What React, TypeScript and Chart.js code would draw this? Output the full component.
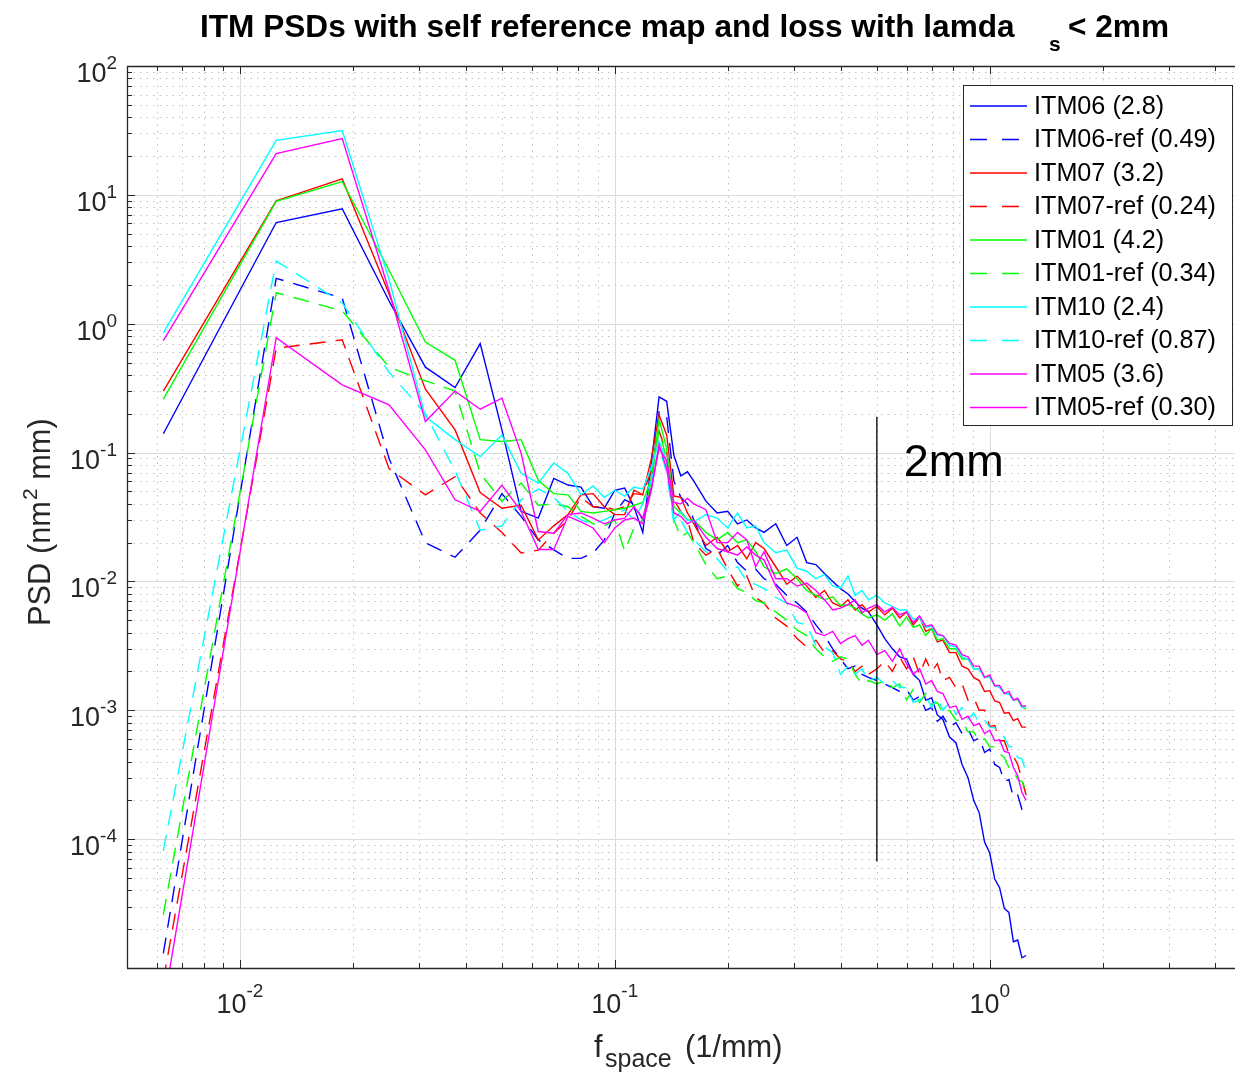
import React, { useEffect, useRef } from "react";
import { Chart, registerables } from "chart.js";

Chart.register(...registerables);

// spatial frequency (1/mm)
const FREQ = [
  0.00625, 0.0125, 0.01875, 0.025, 0.03125, 0.0375, 0.04375, 0.05, 0.05625, 0.0625,
  0.06875, 0.075, 0.08125, 0.0875, 0.09375, 0.1, 0.10625, 0.1125, 0.11875, 0.125,
  0.13125, 0.1375, 0.14375, 0.15, 0.15625,
  0.1625, 0.175, 0.1875, 0.2, 0.2125, 0.225, 0.2375, 0.25, 0.26875, 0.2875,
  0.30625, 0.325, 0.34375, 0.3625, 0.38125, 0.4, 0.41875, 0.4375, 0.45625, 0.475,
  0.5, 0.525, 0.55, 0.575,
  0.6, 0.625, 0.65, 0.675, 0.7, 0.725,
  0.75, 0.78125, 0.8125, 0.84375, 0.875, 0.90625, 0.9375, 0.96875, 1.0, 1.03125,
  1.0625, 1.09375, 1.125, 1.15625, 1.1875, 1.21875, 1.25,
];

const ITM06 = [
  0.14, 6.1, 7.8, 1.5, 0.46, 0.32, 0.70, 0.15, 0.035, 0.031,
  0.063, 0.056, 0.054, 0.038, 0.037, 0.051, 0.053, 0.038, 0.024, 0.08,
  0.27, 0.25, 0.095, 0.066, 0.071,
  0.060, 0.042, 0.034, 0.035, 0.028, 0.030, 0.026, 0.024, 0.028, 0.019,
  0.022, 0.014, 0.0135, 0.0115, 0.010, 0.0088, 0.0080, 0.0070, 0.0062, 0.0058,
  0.0046, 0.0036, 0.0030, 0.0026,
  0.0025, 0.0019, 0.0017, 0.0012, 0.00125, 0.00092,
  0.00085, 0.00062, 0.00056, 0.00038, 0.0003, 0.0002, 0.00016, 0.000095, 0.000078, 0.000049,
  0.000042, 0.000029, 0.000027, 0.000016, 0.0000165, 0.000012, 0.0000125,
];
const ITM06_REF = [
  0.000013, 2.25, 1.58, 0.09, 0.02, 0.0154, 0.025, 0.048, 0.032, 0.021,
  0.0176, 0.0151, 0.0151, 0.0166, 0.021, 0.034, 0.043, 0.040, 0.030, 0.054,
  0.21, 0.19, 0.06, 0.045, 0.040,
  0.030, 0.018, 0.016, 0.019, 0.014, 0.012, 0.0125, 0.0105, 0.0095, 0.0078,
  0.0068, 0.0058, 0.0046, 0.0038, 0.0030, 0.0025, 0.0021, 0.0022, 0.0019, 0.0018,
  0.0017, 0.0016, 0.0015, 0.0014,
  0.00145, 0.0012, 0.00128, 0.001, 0.00105, 0.00082,
  0.0009, 0.00074, 0.0008, 0.00066, 0.00072, 0.00058, 0.00061, 0.00047, 0.0005, 0.00038,
  0.00036, 0.00028, 0.00029, 0.00021, 0.00022, 0.00017, 0.000165,
];
const ITM07 = [
  0.30, 8.97, 13.3, 1.7, 0.31, 0.15, 0.049, 0.037, 0.039, 0.021,
  0.027, 0.033, 0.047, 0.048, 0.038, 0.033, 0.033, 0.051, 0.047, 0.088,
  0.196, 0.137, 0.046, 0.045, 0.034,
  0.028, 0.019, 0.022, 0.017, 0.019, 0.015, 0.020, 0.018, 0.013, 0.0095,
  0.011, 0.0092, 0.0075, 0.0085, 0.0068, 0.0064, 0.0072, 0.0060, 0.0066, 0.0058,
  0.0064, 0.0055, 0.0062, 0.0052,
  0.0058, 0.0046, 0.0053, 0.0041, 0.0043, 0.0034,
  0.0035, 0.0028, 0.0028, 0.0022, 0.0021, 0.0018, 0.0017, 0.0014, 0.00142, 0.00118,
  0.00115, 0.00095, 0.00096, 0.00083, 0.00086, 0.00074, 0.00074,
];
const ITM07_REF = [
  0.000008, 0.645, 0.75, 0.075, 0.047, 0.065, 0.034, 0.024, 0.0166, 0.0175,
  0.0237, 0.030, 0.045, 0.038, 0.038, 0.036, 0.038, 0.048, 0.047, 0.072,
  0.147, 0.10, 0.043, 0.035, 0.030,
  0.020, 0.016, 0.018, 0.0125, 0.0092, 0.011, 0.0075, 0.0068, 0.0052, 0.0045,
  0.0036, 0.0031, 0.0035, 0.0028, 0.0029, 0.0025, 0.0024, 0.0020, 0.0022, 0.0019,
  0.0021, 0.0024, 0.0020, 0.0026,
  0.0021, 0.0026, 0.0019, 0.0025, 0.0020, 0.0023,
  0.0017, 0.0018, 0.0015, 0.0016, 0.0012, 0.00125, 0.001, 0.001, 0.00075, 0.00076,
  0.00058, 0.00058, 0.00046, 0.00044, 0.00038, 0.00029, 0.00022,
];
const ITM01 = [
  0.26, 8.9, 12.7, 2.6, 0.72, 0.52, 0.126, 0.122, 0.126, 0.061,
  0.048, 0.047, 0.035, 0.034, 0.035, 0.036, 0.037, 0.039, 0.041, 0.063,
  0.18, 0.108, 0.038, 0.034, 0.030,
  0.030, 0.024, 0.021, 0.024, 0.020, 0.021, 0.017, 0.013, 0.0115, 0.0125,
  0.0105, 0.0085, 0.0078, 0.0072, 0.0076, 0.0065, 0.0066, 0.0062, 0.0056, 0.0052,
  0.0055, 0.0050, 0.0056, 0.0045,
  0.0053, 0.0044, 0.0046, 0.0038, 0.0043, 0.0035,
  0.0036, 0.003, 0.003, 0.0025, 0.0025, 0.0021, 0.0021, 0.0018, 0.00182, 0.00155,
  0.00155, 0.00135, 0.00134, 0.0012, 0.00121, 0.00106, 0.00102,
];
const ITM01_REF = [
  0.000026, 1.74, 1.26, 0.46, 0.36, 0.30, 0.069, 0.042, 0.058, 0.039,
  0.040, 0.038, 0.032, 0.028, 0.027, 0.030, 0.0172, 0.026, 0.030, 0.060,
  0.15, 0.088, 0.030, 0.022, 0.024,
  0.020, 0.0135, 0.0105, 0.011, 0.0088, 0.0082, 0.0071, 0.0068, 0.0058, 0.0050,
  0.0042, 0.0038, 0.0030, 0.0026, 0.0024, 0.0026, 0.0025, 0.0019, 0.0016, 0.0017,
  0.0016, 0.0017, 0.0015, 0.0016,
  0.0012, 0.00145, 0.00115, 0.00135, 0.0011, 0.00115,
  0.00095, 0.001, 0.00084, 0.00083, 0.00068, 0.00068, 0.00058, 0.0006, 0.00052, 0.00052,
  0.00046, 0.00043, 0.00036, 0.00034, 0.00029, 0.00028, 0.00024,
];
const ITM10 = [
  0.85, 26.5, 31.5, 2.2, 0.19, 0.126, 0.093, 0.137, 0.069, 0.058,
  0.083, 0.069, 0.047, 0.055, 0.045, 0.051, 0.046, 0.054, 0.052, 0.076,
  0.123, 0.086, 0.030, 0.035, 0.030,
  0.029, 0.033, 0.031, 0.026, 0.034, 0.026, 0.027, 0.020, 0.0167, 0.0175,
  0.0127, 0.012, 0.0105, 0.0113, 0.0092, 0.0089, 0.011, 0.0078, 0.0085, 0.0072,
  0.0078, 0.0068, 0.0064, 0.0060,
  0.006, 0.0051, 0.0052, 0.0044, 0.0045, 0.0038,
  0.0038, 0.0032, 0.0031, 0.0026, 0.0025, 0.0021, 0.0021, 0.0018, 0.0018, 0.00155,
  0.0015, 0.00135, 0.00134, 0.0012, 0.00123, 0.00105, 0.00108,
];
const ITM10_REF = [
  0.000081, 3.07, 1.45, 0.42, 0.20, 0.072, 0.025, 0.027, 0.043, 0.052,
  0.045, 0.035, 0.030, 0.028, 0.030, 0.033, 0.036, 0.030, 0.040, 0.060,
  0.11, 0.07, 0.028, 0.030, 0.024,
  0.021, 0.017, 0.015, 0.012, 0.013, 0.010, 0.0095, 0.0088, 0.0075, 0.0068,
  0.0048, 0.0046, 0.0032, 0.0031, 0.0028, 0.0019, 0.0022, 0.0019, 0.0021, 0.0017,
  0.0018, 0.0016, 0.0017, 0.0015,
  0.0015, 0.00115, 0.0012, 0.0013, 0.00105, 0.00125,
  0.001, 0.00115, 0.00093, 0.00105, 0.00086, 0.00095, 0.0008, 0.00084, 0.00074, 0.00073,
  0.00064, 0.00062, 0.00052, 0.00052, 0.00043, 0.00042, 0.00033,
];
const ITM05 = [
  0.74, 20.9, 27.3, 1.8, 0.174, 0.30, 0.217, 0.264, 0.099, 0.0244,
  0.0237, 0.033, 0.034, 0.031, 0.028, 0.030, 0.031, 0.038, 0.031, 0.052,
  0.108, 0.086, 0.041, 0.040, 0.044,
  0.040, 0.036, 0.020, 0.020, 0.024, 0.021, 0.013, 0.017, 0.0105, 0.0105,
  0.0092, 0.0097, 0.0085, 0.0072, 0.0060, 0.0062, 0.0066, 0.0072, 0.0057, 0.0062,
  0.0066, 0.0058, 0.0063, 0.0055,
  0.0058, 0.0048, 0.0054, 0.0045, 0.0046, 0.0039,
  0.0038, 0.0033, 0.0032, 0.0027, 0.0026, 0.0022, 0.0022, 0.0018, 0.00188, 0.00155,
  0.00156, 0.00135, 0.0014, 0.0012, 0.00124, 0.00108, 0.00108,
];
const ITM05_REF = [
  0.000005, 0.78, 0.335, 0.235, 0.105, 0.043, 0.035, 0.056, 0.035, 0.0177,
  0.0177, 0.032, 0.029, 0.026, 0.020, 0.026, 0.030, 0.031, 0.028, 0.05,
  0.115, 0.075, 0.034, 0.032, 0.028,
  0.030, 0.022, 0.018, 0.017, 0.016, 0.0185, 0.016, 0.0147, 0.0092, 0.0068,
  0.0064, 0.0057, 0.0040, 0.0038, 0.0041, 0.0033, 0.0036, 0.0038, 0.0032, 0.0035,
  0.0027, 0.0029, 0.0024, 0.0030,
  0.0023, 0.0019, 0.0021, 0.0016, 0.0017, 0.0014,
  0.00135, 0.00105, 0.00108, 0.00085, 0.0009, 0.00076, 0.00079, 0.00066, 0.0007, 0.00058,
  0.00059, 0.00048, 0.00047, 0.00036, 0.00031, 0.00023, 0.0002,
];

const SERIES_VALUES = [ITM06, ITM06_REF, ITM07, ITM07_REF, ITM01, ITM01_REF, ITM10, ITM10_REF, ITM05, ITM05_REF];
const SERIES_LABELS = [
  "ITM06 (2.8)", "ITM06-ref (0.49)", "ITM07 (3.2)", "ITM07-ref (0.24)", "ITM01 (4.2)",
  "ITM01-ref (0.34)", "ITM10 (2.4)", "ITM10-ref (0.87)", "ITM05 (3.6)", "ITM05-ref (0.30)",
];
const SERIES_COLORS = ["#0000ff", "#0000ff", "#ff0000", "#ff0000", "#00ff00", "#00ff00", "#00ffff", "#00ffff", "#ff00ff", "#ff00ff"];
const SERIES_DASHED = [false, true, false, true, false, true, false, true, false, false];

// vertical marker at lambda = 2 mm
const MARK_FREQ = [0.5, 0.5];
const MARK_PSD = [0.19, 0.000067];
const MARK_TEXT = "2mm";
const MARK_TEXT_AT = [0.59, 0.066];

const X_RANGE = [0.005, 4.51];
const Y_RANGE = [1e-5, 100];
const X_TICK_VALUES = [0.01, 0.1, 1];
const X_TICK_EXP = ["-2", "-1", "0"];
const Y_TICK_VALUES = [100, 10, 1, 0.1, 0.01, 0.001, 0.0001];
const Y_TICK_EXP = ["2", "1", "0", "-1", "-2", "-3", "-4"];

const TITLE_MAIN = "ITM PSDs with self reference map and loss with lamda";
const TITLE_SUB = "s";
const TITLE_END = "< 2mm";

const FONT = '"Liberation Sans", Arial, Helvetica, sans-serif';

function powLabel(ctx: CanvasRenderingContext2D, exp: string, x: number, y: number, align: string, raise: number) {
  ctx.font = `27px ${FONT}`;
  const wb = ctx.measureText("10").width;
  ctx.font = `19px ${FONT}`;
  const we = ctx.measureText(exp).width;
  const total = wb + we;
  const start = align === "right" ? x - total : x - total / 2;
  ctx.textAlign = "left";
  ctx.textBaseline = "alphabetic";
  ctx.font = `27px ${FONT}`;
  ctx.fillText("10", start, y);
  ctx.font = `19px ${FONT}`;
  ctx.fillText(exp, start + wb, y - raise);
}

const matlabPlugin = {
  id: "matlabAxes",
  beforeDraw(chart: any) {
    const ctx = chart.ctx;
    ctx.save();
    ctx.fillStyle = "#ffffff";
    ctx.fillRect(0, 0, chart.width, chart.height);
    ctx.restore();
  },
  beforeDatasetsDraw(chart: any) {
    const { ctx, chartArea: a, scales } = chart;
    const xs = scales.x;
    const ys = scales.y;
    ctx.save();
    // minor grid (dotted)
    ctx.strokeStyle = "rgba(120,120,120,0.45)";
    ctx.lineWidth = 1;
    ctx.setLineDash([1.5, 5]);
    for (let k = -3; k <= 1; k++) {
      for (let m = 2; m <= 9; m++) {
        const v = m * Math.pow(10, k);
        if (v <= X_RANGE[0] || v >= X_RANGE[1]) continue;
        const px = Math.round(xs.getPixelForValue(v)) + 0.5;
        ctx.beginPath();
        ctx.moveTo(px, a.top);
        ctx.lineTo(px, a.bottom);
        ctx.stroke();
      }
    }
    for (let k = -5; k <= 2; k++) {
      for (let m = 2; m <= 9; m++) {
        const v = m * Math.pow(10, k);
        if (v <= Y_RANGE[0] || v >= Y_RANGE[1]) continue;
        const py = Math.round(ys.getPixelForValue(v)) + 0.5;
        ctx.beginPath();
        ctx.moveTo(a.left, py);
        ctx.lineTo(a.right, py);
        ctx.stroke();
      }
    }
    // major grid
    ctx.setLineDash([]);
    ctx.strokeStyle = "#dcdcdc";
    for (const v of X_TICK_VALUES) {
      const px = Math.round(xs.getPixelForValue(v)) + 0.5;
      ctx.beginPath();
      ctx.moveTo(px, a.top);
      ctx.lineTo(px, a.bottom);
      ctx.stroke();
    }
    for (const v of Y_TICK_VALUES) {
      const py = Math.round(ys.getPixelForValue(v)) + 0.5;
      ctx.beginPath();
      ctx.moveTo(a.left, py);
      ctx.lineTo(a.right, py);
      ctx.stroke();
    }
    ctx.restore();
  },
  afterDatasetsDraw(chart: any) {
    const { ctx, chartArea: a, scales } = chart;
    const xs = scales.x;
    const ys = scales.y;
    ctx.save();
    ctx.setLineDash([]);
    ctx.strokeStyle = "#262626";
    ctx.fillStyle = "#262626";
    ctx.lineWidth = 1;
    // ticks
    const major = 8;
    const minor = 5;
    for (let k = -3; k <= 1; k++) {
      for (let m = 1; m <= 9; m++) {
        const v = m * Math.pow(10, k);
        if (v <= X_RANGE[0] || v >= X_RANGE[1]) continue;
        const px = Math.round(xs.getPixelForValue(v)) + 0.5;
        const len = m === 1 ? major : minor;
        ctx.beginPath();
        ctx.moveTo(px, a.bottom);
        ctx.lineTo(px, a.bottom - len);
        ctx.moveTo(px, a.top);
        ctx.lineTo(px, a.top + len);
        ctx.stroke();
      }
    }
    for (let k = -5; k <= 2; k++) {
      for (let m = 1; m <= 9; m++) {
        const v = m * Math.pow(10, k);
        if (v <= Y_RANGE[0] || v >= Y_RANGE[1]) continue;
        const py = Math.round(ys.getPixelForValue(v)) + 0.5;
        const len = m === 1 ? major : minor;
        ctx.beginPath();
        ctx.moveTo(a.left, py);
        ctx.lineTo(a.left + len, py);
        ctx.stroke();
      }
    }
    // axes lines
    ctx.lineWidth = 1.3;
    ctx.beginPath();
    ctx.moveTo(Math.round(a.left) + 0.5, a.top);
    ctx.lineTo(Math.round(a.left) + 0.5, a.bottom);
    ctx.moveTo(a.left, Math.round(a.bottom) + 0.5);
    ctx.lineTo(a.right, Math.round(a.bottom) + 0.5);
    ctx.moveTo(a.left, Math.round(a.top) + 0.5);
    ctx.lineTo(a.right, Math.round(a.top) + 0.5);
    ctx.stroke();

    // tick labels
    ctx.fillStyle = "#262626";
    Y_TICK_VALUES.forEach((v, i) => {
      const py = ys.getPixelForValue(v);
      powLabel(ctx, Y_TICK_EXP[i], a.left - 10, py + 16, "right", 13);
    });
    X_TICK_VALUES.forEach((v, i) => {
      const px = xs.getPixelForValue(v);
      powLabel(ctx, X_TICK_EXP[i], px, a.bottom + 45, "center", 16);
    });

    // axis labels
    ctx.textAlign = "left";
    ctx.textBaseline = "alphabetic";
    ctx.font = `30.8px ${FONT}`;
    ctx.fillText("f", 594, 1057);
    ctx.font = `25px ${FONT}`;
    ctx.fillText("space", 605, 1067);
    ctx.font = `30.8px ${FONT}`;
    ctx.fillText("(1/mm)", 685, 1057);

    ctx.save();
    ctx.translate(50, 626);
    ctx.rotate(-Math.PI / 2);
    ctx.font = `30.8px ${FONT}`;
    const p1 = "PSD (nm";
    ctx.fillText(p1, 0, 0);
    let w = ctx.measureText(p1).width;
    ctx.font = `21px ${FONT}`;
    ctx.fillText("2", w + 1, -13);
    w += ctx.measureText("2").width + 1;
    ctx.font = `30.8px ${FONT}`;
    ctx.fillText(" mm)", w, 0);
    ctx.restore();

    // title
    ctx.fillStyle = "#000000";
    ctx.font = `bold 31.6px ${FONT}`;
    ctx.fillText(TITLE_MAIN, 200, 37);
    ctx.font = `bold 21px ${FONT}`;
    ctx.fillText(TITLE_SUB, 1049, 51);
    ctx.font = `bold 31.6px ${FONT}`;
    ctx.fillText(TITLE_END, 1068, 37);

    // annotation
    ctx.font = `45px ${FONT}`;
    ctx.fillStyle = "#000000";
    ctx.fillText(MARK_TEXT, xs.getPixelForValue(MARK_TEXT_AT[0]), ys.getPixelForValue(MARK_TEXT_AT[1]));

    // legend
    const lx = 963.5, ly = 85.5, lw = 269, lh = 340;
    ctx.fillStyle = "#ffffff";
    ctx.fillRect(lx, ly, lw, lh);
    ctx.strokeStyle = "#262626";
    ctx.lineWidth = 1;
    ctx.strokeRect(lx, ly, lw, lh);
    SERIES_LABELS.forEach((lab, i) => {
      const cy = 106 + i * 33.5;
      ctx.strokeStyle = SERIES_COLORS[i];
      ctx.lineWidth = 1.4;
      ctx.setLineDash(SERIES_DASHED[i] ? [17, 15] : []);
      ctx.beginPath();
      ctx.moveTo(970, cy);
      ctx.lineTo(1027, cy);
      ctx.stroke();
      ctx.setLineDash([]);
      ctx.fillStyle = "#000000";
      ctx.font = `25.2px ${FONT}`;
      ctx.textBaseline = "middle";
      ctx.fillText(lab, 1034, cy + 1);
      ctx.textBaseline = "alphabetic";
    });
    ctx.restore();
  },
};

export default function App() {
  const ref = useRef<HTMLCanvasElement | null>(null);
  useEffect(() => {
    const datasets: any[] = SERIES_VALUES.map((vals, i) => ({
      label: SERIES_LABELS[i],
      data: FREQ.map((f, j) => ({ x: f, y: vals[j] })),
      borderColor: SERIES_COLORS[i],
      backgroundColor: SERIES_COLORS[i],
      borderWidth: 1.4,
      borderDash: SERIES_DASHED[i] ? [16, 10] : [],
      pointRadius: 0,
      fill: false,
      tension: 0,
      order: 20 - i,
    }));
    datasets.push({
      label: "2mm",
      data: MARK_FREQ.map((f, j) => ({ x: f, y: MARK_PSD[j] })),
      borderColor: "#000000",
      borderWidth: 1.3,
      pointRadius: 0,
      fill: false,
      order: 0,
    });
    const chart = new Chart(ref.current as HTMLCanvasElement, {
      type: "line",
      data: { datasets },
      options: {
        responsive: false,
        animation: false,
        devicePixelRatio: 1,
        layout: { padding: { left: 127, top: 66, right: 0, bottom: 105 } },
        plugins: { legend: { display: false }, title: { display: false }, tooltip: { enabled: false } },
        scales: {
          x: { type: "logarithmic", min: X_RANGE[0], max: X_RANGE[1], display: false },
          y: { type: "logarithmic", min: Y_RANGE[0], max: Y_RANGE[1], display: false },
        },
      },
      plugins: [matlabPlugin],
    } as any);
    return () => chart.destroy();
  }, []);
  return (
    <div style={{ position: "absolute", left: 0, top: 0, width: 1235, height: 1073, background: "#fff" }}>
      <canvas ref={ref} width={1235} height={1073} style={{ width: 1235, height: 1073, display: "block" }} />
    </div>
  );
}
